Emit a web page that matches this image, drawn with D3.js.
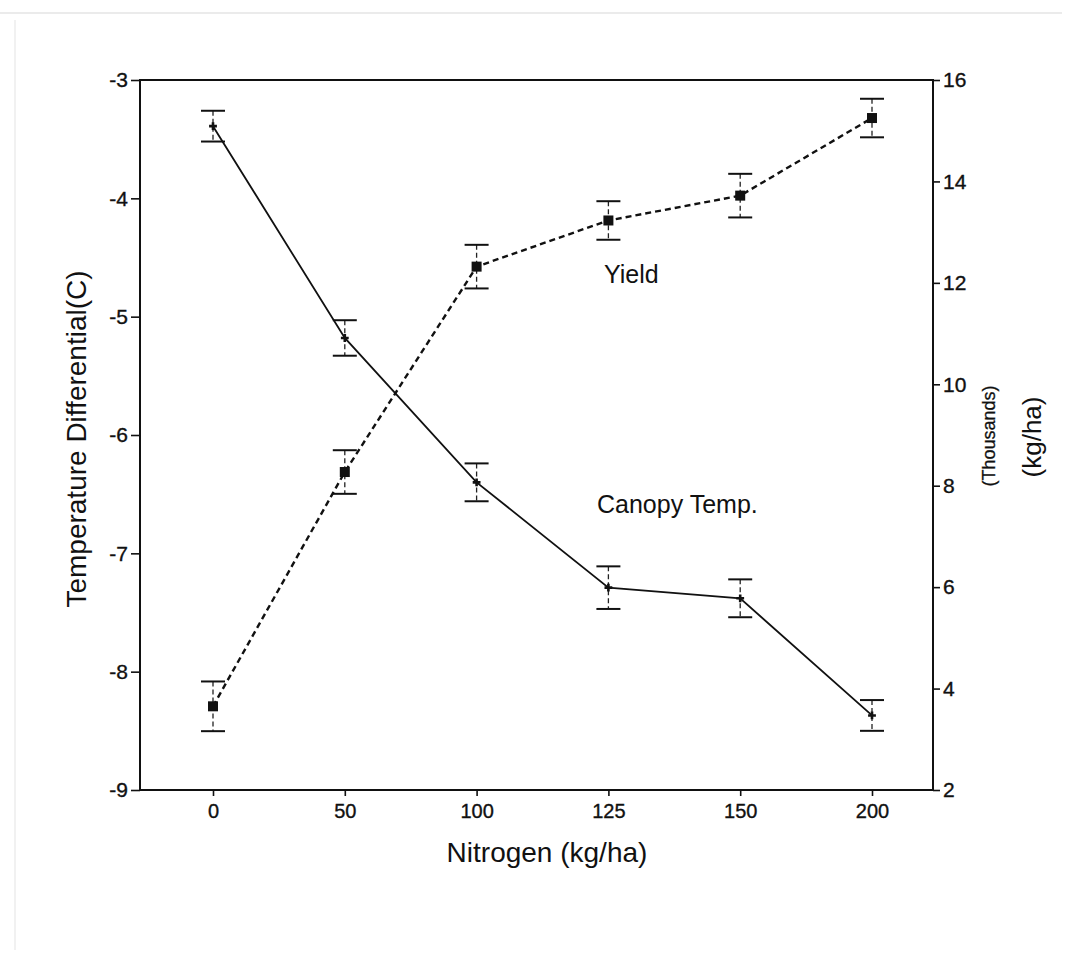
<!DOCTYPE html>
<html>
<head>
<meta charset="utf-8">
<script src="https://cdn.jsdelivr.net/npm/d3@7"></script>
<style>
  html, body { margin: 0; padding: 0; background: #fff; }
  svg { display: block; }
  text { font-family: "Liberation Sans", Arial, sans-serif; fill: #111; }
  .tick text { stroke: #111; stroke-width: 0.35px; }
</style>
</head>
<body>
<svg id="chart" width="1077" height="961"></svg>
<script>
// Nitrogen rates (categorical, evenly spaced on the axis)
const nitrogen = ["0", "50", "100", "125", "150", "200"];

// Canopy temperature differential (C) with error half-widths
const canopyTemp = [-3.39, -5.18, -6.40, -7.29, -7.38, -8.37];
const canopyErr  = [0.13, 0.15, 0.16, 0.18, 0.16, 0.13];

// Yield (thousands kg/ha) with error half-widths
const yieldK   = [3.65, 8.27, 12.32, 13.23, 13.72, 15.25];
const yieldErr = [0.49, 0.43, 0.43, 0.38, 0.43, 0.38];

// Axis ticks
const tempTicks  = [-3, -4, -5, -6, -7, -8, -9];
const yieldTicks = [2, 4, 6, 8, 10, 12, 14, 16];

const svg = d3.select("#chart");
const plot = { left: 140, right: 933, top: 80, bottom: 790 };

// faint scan edges
svg.append("line").attr("x1", 0).attr("x2", 1062).attr("y1", 13).attr("y2", 13)
  .attr("stroke", "#e4e4e4").attr("stroke-width", 1.5);
svg.append("line").attr("x1", 15).attr("x2", 15).attr("y1", 20).attr("y2", 950)
  .attr("stroke", "#ececec").attr("stroke-width", 1.5);

const x = d3.scalePoint().domain(nitrogen).range([plot.left + 73, plot.right - 61]);
const yL = d3.scaleLinear().domain([-9, -3]).range([plot.bottom, plot.top]);
const yR = d3.scaleLinear().domain([2, 16]).range([plot.bottom, plot.top]);

// Frame
svg.append("rect")
  .attr("x", plot.left).attr("y", plot.top)
  .attr("width", plot.right - plot.left).attr("height", plot.bottom - plot.top)
  .attr("fill", "none").attr("stroke", "#111").attr("stroke-width", 2);

const styleAxis = (g, size) => {
  g.attr("font-size", size);
  g.select(".domain").remove();
  g.selectAll(".tick line").attr("stroke", "#111").attr("stroke-width", 1.6);
  g.selectAll(".tick text").style("font-size", size + "px").attr("fill", "#111");
};

svg.append("g")
  .attr("transform", `translate(${plot.left},0)`)
  .call(d3.axisLeft(yL).tickValues(tempTicks).tickFormat(d => String(d)).tickSize(9).tickPadding(3))
  .call(g => styleAxis(g, 21));

svg.append("g")
  .attr("transform", `translate(${plot.right},0)`)
  .call(d3.axisRight(yR).tickValues(yieldTicks).tickFormat(d => String(d)).tickSize(7).tickPadding(3))
  .call(g => styleAxis(g, 21));

svg.append("g")
  .attr("transform", `translate(0,${plot.bottom})`)
  .call(d3.axisBottom(x).tickSize(6).tickPadding(8))
  .call(g => styleAxis(g, 20));

// Axis titles
svg.append("text")
  .attr("transform", `translate(86,${(plot.top + plot.bottom) / 2 + 4}) rotate(-90)`)
  .attr("text-anchor", "middle").style("font-size", "28px")
  .text("Temperature Differential(C)");

svg.append("text")
  .attr("x", 547).attr("y", 862)
  .attr("text-anchor", "middle").style("font-size", "28px")
  .text("Nitrogen (kg/ha)");

svg.append("text")
  .attr("transform", `translate(995,436) rotate(-90)`)
  .attr("text-anchor", "middle").style("font-size", "18px")
  .attr("stroke", "#111").attr("stroke-width", 0.3)
  .text("(Thousands)");

svg.append("text")
  .attr("transform", `translate(1041,437) rotate(-90)`)
  .attr("text-anchor", "middle").style("font-size", "26px")
  .text("(kg/ha)");

// Series labels
svg.append("text").attr("x", 604).attr("y", 283).style("font-size", "25px").text("Yield");
svg.append("text").attr("x", 597).attr("y", 513).style("font-size", "25px").text("Canopy Temp.");

// Error bars
function errorBars(vals, errs, y, cls) {
  const g = svg.append("g").attr("class", cls);
  const capW = 12;
  vals.forEach((v, i) => {
    const cx = x(nitrogen[i]);
    g.append("line")
      .attr("x1", cx).attr("x2", cx)
      .attr("y1", y(v + errs[i])).attr("y2", y(v - errs[i]))
      .attr("stroke", "#222").attr("stroke-width", 1.3).attr("stroke-dasharray", "5,3");
    [v + errs[i], v - errs[i]].forEach(e => {
      g.append("line")
        .attr("x1", cx - capW).attr("x2", cx + capW)
        .attr("y1", y(e)).attr("y2", y(e))
        .attr("stroke", "#111").attr("stroke-width", 2);
    });
  });
}
errorBars(canopyTemp, canopyErr, yL, "canopy-err");
errorBars(yieldK, yieldErr, yR, "yield-err");

// Canopy temperature: solid line with plus markers
svg.append("path")
  .datum(canopyTemp)
  .attr("d", d3.line().x((d, i) => x(nitrogen[i])).y(d => yL(d)))
  .attr("fill", "none").attr("stroke", "#111").attr("stroke-width", 1.8);

svg.append("g").selectAll("path")
  .data(canopyTemp).join("path")
  .attr("transform", (d, i) => `translate(${x(nitrogen[i])},${yL(d)})`)
  .attr("d", d3.symbol(d3.symbolCross, 34))
  .attr("fill", "#111");

// Yield: dashed line with filled square markers
svg.append("path")
  .datum(yieldK)
  .attr("d", d3.line().x((d, i) => x(nitrogen[i])).y(d => yR(d)))
  .attr("fill", "none").attr("stroke", "#111").attr("stroke-width", 2.4)
  .attr("stroke-dasharray", "6,4");

svg.append("g").selectAll("rect")
  .data(yieldK).join("rect")
  .attr("x", (d, i) => x(nitrogen[i]) - 5)
  .attr("y", d => yR(d) - 5)
  .attr("width", 10).attr("height", 10)
  .attr("fill", "#111");
</script>
</body>
</html>
